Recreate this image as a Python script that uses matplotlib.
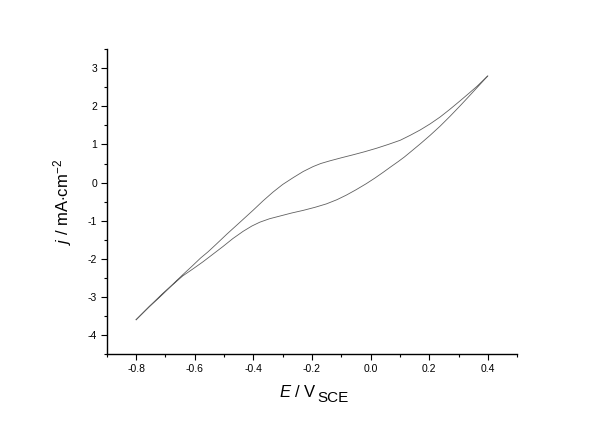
import matplotlib
matplotlib.use("Agg")
import matplotlib.pyplot as plt
from matplotlib.ticker import MultipleLocator

plt.rcParams['font.family'] = ['Liberation Sans', 'DejaVu Sans']
plt.rcParams['mathtext.fontset'] = 'custom'
plt.rcParams['mathtext.rm'] = 'Liberation Sans'
plt.rcParams['mathtext.it'] = 'Liberation Sans:italic'

# forward scan (lower branch), -0.8 -> 0.4 V
E_fwd = [-0.800, -0.755, -0.709, -0.675, -0.641, -0.605, -0.572, -0.538, -0.504,
         -0.470, -0.435, -0.405, -0.378, -0.345, -0.310, -0.270, -0.230, -0.190,
         -0.151, -0.115, -0.083, -0.050, -0.015, 0.015, 0.043, 0.070, 0.094,
         0.115, 0.134, 0.170, 0.203, 0.237, 0.271, 0.306, 0.340, 0.370, 0.400]
j_fwd = [-3.60, -3.26, -2.93, -2.68, -2.45, -2.26, -2.08, -1.88, -1.68,
         -1.47, -1.28, -1.14, -1.04, -0.95, -0.88, -0.80, -0.73, -0.65,
         -0.56, -0.45, -0.33, -0.19, -0.03, 0.12, 0.27, 0.42, 0.55,
         0.67, 0.79, 1.02, 1.24, 1.48, 1.74, 2.02, 2.30, 2.55, 2.80]

# reverse scan (upper branch), 0.4 -> -0.8 V
E_rev = [0.400, 0.362, 0.335, 0.306, 0.270, 0.237, 0.203, 0.169, 0.135,
         0.101, 0.060, 0.020, -0.020, -0.059, -0.100, -0.139, -0.170, -0.196,
         -0.230, -0.264, -0.300, -0.333, -0.367, -0.400, -0.447, -0.490, -0.527,
         -0.555, -0.580, -0.610, -0.641, -0.675, -0.709, -0.755, -0.800]
j_rev = [2.80, 2.52, 2.34, 2.15, 1.92, 1.72, 1.54, 1.38, 1.24,
         1.11, 1.00, 0.90, 0.81, 0.73, 0.65, 0.57, 0.50, 0.42,
         0.29, 0.13, -0.05, -0.25, -0.48, -0.72, -1.05, -1.35, -1.62,
         -1.82, -1.98, -2.20, -2.42, -2.67, -2.91, -3.25, -3.60]

fig = plt.figure(figsize=(6, 4.24), dpi=100)
ax = fig.add_axes([0.178, 0.165, 0.684, 0.719])

ax.plot(E_fwd + E_rev, j_fwd + j_rev, color='#606060', lw=0.6)

ax.set_xlim(-0.9, 0.5)
ax.set_ylim(-4.5, 3.5)
ax.xaxis.set_minor_locator(MultipleLocator(0.1))
ax.yaxis.set_minor_locator(MultipleLocator(0.5))
ax.set_xticks([-0.8, -0.6, -0.4, -0.2, 0.0, 0.2, 0.4])
ax.set_xticklabels(['-0.8', '-0.6', '-0.4', '-0.2', '0.0', '0.2', '0.4'])
ax.set_yticks([-4, -3, -2, -1, 0, 1, 2, 3])
ax.set_yticklabels(['-4', '-3', '-2', '-1', '0', '1', '2', '3'])

for s in ['top', 'right']:
    ax.spines[s].set_visible(False)
for s in ['left', 'bottom']:
    ax.spines[s].set_linewidth(1.0)
ax.tick_params(which='major', direction='out', length=4, width=0.8, labelsize=7.5, pad=3)
ax.tick_params(which='minor', direction='out', length=2.5, width=0.8)

ax.set_ylabel(r'$j$ / mA$\cdot$cm$^{-2}$', fontsize=12, labelpad=10)

# x label: subscript drawn at full size, shifted down, as in the original
t1 = fig.text(0.465, 0.064, r'$E$ / V', fontsize=12, ha='left', va='baseline')
fig.canvas.draw()
bb = t1.get_window_extent()
x2 = bb.x1 / fig.bbox.width
fig.text(x2, 0.064 - 0.013, 'SCE', fontsize=11, ha='left', va='baseline')

fig.savefig('out.png', dpi=100)
